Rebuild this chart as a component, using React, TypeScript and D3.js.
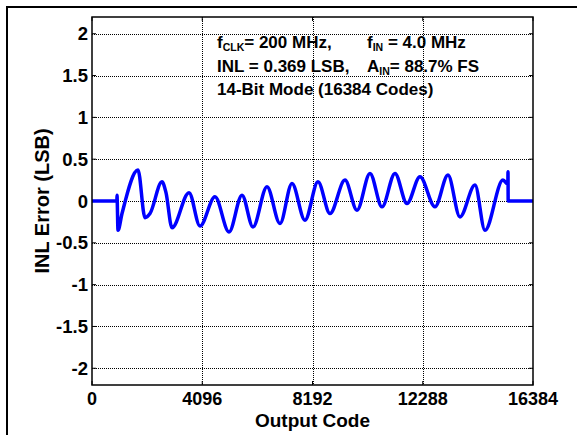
import React from "react";
import * as d3 from "d3";

const codes = [0, 925, 929, 966, 1115, 1709, 1969, 2155, 2600, 2749, 2972, 3604, 4012, 4569, 5090, 5573, 5981, 6501, 6984, 7430, 7913, 8396, 8842, 9399, 9845, 10328, 10774, 11256, 11702, 12185, 12742, 13225, 13671, 14228, 14600, 15269, 15450, 15455, 15462, 16383];
const inl = [0, 0, 0.07, -0.35, -0.15, 0.37, -0.2, -0.15, 0.23, 0.1, -0.32, 0.1, -0.3, 0.05, -0.37, 0.07, -0.31, 0.17, -0.27, 0.21, -0.23, 0.23, -0.15, 0.25, -0.11, 0.33, -0.07, 0.33, -0.03, 0.29, -0.07, 0.31, -0.19, 0.19, -0.35, 0.25, 0.2, 0.35, 0, 0];
const xTicks = [0, 4096, 8192, 12288, 16384];
const yTicks = [-2, -1.5, -1, -0.5, 0, 0.5, 1, 1.5, 2];

export default function App() {
  const W = 577, H = 435;
  const left = 92, right = 533, top = 17, bottom = 385;
  const x = d3.scaleLinear().domain([0, 16384]).range([left, right]);
  const y = d3.scaleLinear().domain([-2.2, 2.2]).range([bottom, top]);
  const pts = codes.map((c, i) => [c, inl[i]] as [number, number]);
  const line = d3.line<[number, number]>().x(d => x(d[0])).y(d => y(d[1])).curve(d3.curveMonotoneX);
  const font = "'Liberation Sans', Arial, sans-serif";
  return (
    <svg width={W} height={H} style={{ position: "absolute", left: 0, top: 0, background: "#fff" }} fontFamily={font} fontWeight="bold">
      <rect x={0} y={0} width={W} height={H} fill="#fff" />
      <line x1={7} y1={6} x2={7} y2={H} stroke="#000" strokeWidth={2} />
      <line x1={6} y1={7} x2={W} y2={7} stroke="#000" strokeWidth={2} />
      {yTicks.map(t => (
        <line key={"gy" + t} x1={left} x2={right} y1={Math.round(y(t)) + 0.5} y2={Math.round(y(t)) + 0.5} stroke="#000" strokeWidth={1} strokeDasharray="1,1" />
      ))}
      {xTicks.slice(1, 4).map(t => (
        <line key={"gx" + t} y1={top} y2={bottom} x1={Math.round(x(t)) + 0.5} x2={Math.round(x(t)) + 0.5} stroke="#000" strokeWidth={1} strokeDasharray="1,1" />
      ))}
      {yTicks.map(t => (
        <g key={"ty" + t}>
          <line x1={left} x2={left + 4} y1={y(t)} y2={y(t)} stroke="#000" />
          <line x1={right - 4} x2={right} y1={y(t)} y2={y(t)} stroke="#000" />
          <text x={88} y={y(t) + 6.5} textAnchor="end" fontSize={18.5}>{t}</text>
        </g>
      ))}
      {xTicks.map(t => (
        <g key={"tx" + t}>
          <line y1={bottom} y2={bottom - 4} x1={x(t)} x2={x(t)} stroke="#000" />
          <line y1={top} y2={top + 4} x1={x(t)} x2={x(t)} stroke="#000" />
          <text x={x(t)} y={405} textAnchor="middle" fontSize={18}>{t}</text>
        </g>
      ))}
      <path d={line(pts) || ""} fill="none" stroke="#0000ff" strokeWidth={3.5} strokeLinejoin="round" />
      <rect x={left} y={top} width={right - left} height={bottom - top} fill="none" stroke="#000" strokeWidth={1.5} />
      <text x={(left + right) / 2} y={427} textAnchor="middle" fontSize={19}>Output Code</text>
      <text transform={`translate(49,${(top + bottom) / 2}) rotate(-90)`} textAnchor="middle" fontSize={20}>INL Error (LSB)</text>
      <g fontSize={17}>
        <text x={217} y={48}>f<tspan fontSize={10.5} dy={3}>CLK</tspan><tspan dy={-3}>= 200 MHz,</tspan></text>
        <text x={217} y={72}>INL = 0.369 LSB,</text>
        <text x={217} y={95}>14-Bit Mode (16384 Codes)</text>
        <text x={367} y={48}>f<tspan fontSize={10.5} dy={3}>IN</tspan><tspan dy={-3}> = 4.0 MHz</tspan></text>
        <text x={367} y={72}>A<tspan fontSize={10.5} dy={3}>IN</tspan><tspan dy={-3}>= 88.7% FS</tspan></text>
      </g>
    </svg>
  );
}
